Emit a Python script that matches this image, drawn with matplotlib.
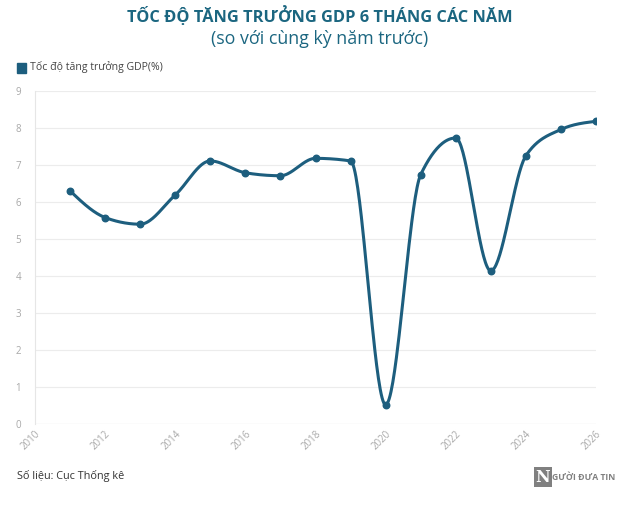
import numpy as np
import matplotlib
matplotlib.use('Agg')
import matplotlib.pyplot as plt

plt.rcParams['font.family'] = ['Open Sans', 'DejaVu Sans']

years = [2011, 2012, 2013, 2014, 2015, 2016, 2017, 2018,
         2019, 2020, 2021, 2022, 2023, 2024, 2025, 2026]
gdp_growth = [6.30, 5.58, 5.40, 6.19, 7.11, 6.79, 6.71, 7.18,
              7.11, 0.52, 6.74, 7.73, 4.14, 7.25, 7.96, 8.18]

line_color = '#1d5e7e'
title_color = '#1b6680'
grey = '#a8a8a8'


# monotone cubic in x (like d3.curveMonotoneX)
def monotone_curve(x, y, n=40):
    x = np.asarray(x, float)
    y = np.asarray(y, float)
    h = np.diff(x)
    s = np.diff(y) / h
    m = np.zeros_like(y)
    for i in range(1, len(y) - 1):
        if s[i - 1] * s[i] <= 0:
            m[i] = 0
        else:
            p = (s[i - 1] * h[i] + s[i] * h[i - 1]) / (h[i - 1] + h[i])
            m[i] = (np.sign(s[i - 1]) + np.sign(s[i])) * min(abs(s[i - 1]), abs(s[i]), 0.5 * abs(p))
    m[0] = (3 * s[0] - m[1]) / 2
    m[-1] = (3 * s[-1] - m[-2]) / 2
    xs, ys = [], []
    for i in range(len(x) - 1):
        t = np.linspace(0, 1, n)
        h00 = 2 * t**3 - 3 * t**2 + 1
        h10 = t**3 - 2 * t**2 + t
        h01 = -2 * t**3 + 3 * t**2
        h11 = t**3 - t**2
        xs.extend(x[i] + t * h[i])
        ys.extend(h00 * y[i] + h10 * h[i] * m[i] + h01 * y[i + 1] + h11 * h[i] * m[i + 1])
    return np.array(xs), np.array(ys)


fig = plt.figure(figsize=(6.4, 5.07), dpi=100)
ax = fig.add_axes([35 / 640, 1 - 424 / 507, 561 / 640, 333 / 507])

cx, cy = monotone_curve(years, gdp_growth)
ax.plot(cx, cy, color=line_color, lw=2.2, solid_capstyle='round', zorder=3)
ax.scatter(years, gdp_growth, s=22, color=line_color, zorder=4)

ax.set_xlim(2010, 2026)
ax.set_ylim(0, 9)
ax.set_yticks(range(0, 10))
ax.set_xticks(range(2010, 2027, 2))
ax.grid(axis='y', color='#ececec', lw=0.8)
ax.set_axisbelow(True)
for side in ['top', 'right', 'bottom']:
    ax.spines[side].set_visible(False)
ax.spines['left'].set_color('#e6e6e6')
ax.axhline(0, color='#e6e6e6', lw=0.8, zorder=1)
ax.tick_params(axis='both', length=0, labelsize=7, labelcolor=grey)
ax.tick_params(axis='y', pad=10)
for lab in ax.get_xticklabels():
    lab.set_rotation(45)
    lab.set_ha('right')
    lab.set_va('top')
    lab.set_rotation_mode('anchor')

fig.text(0.5, 1 - 16 / 507, 'TỐC ĐỘ TĂNG TRƯỞNG GDP 6 THÁNG CÁC NĂM',
         ha='center', va='center', fontsize=11.8, fontweight='bold', color=title_color)
fig.text(0.5, 1 - 39 / 507, '(so với cùng kỳ năm trước)',
         ha='center', va='center', fontsize=12.8, color=title_color)

fig.patches.append(plt.Rectangle((17 / 640, 1 - 73 / 507), 9 / 640, 10 / 507,
                                 transform=fig.transFigure, color=line_color))
fig.text(30 / 640, 1 - 67 / 507, 'Tốc độ tăng trưởng GDP(%)',
         ha='left', va='center', fontsize=7.6, color='#444444')

fig.text(17 / 640, 1 - 476 / 507, 'Số liệu: Cục Thống kê',
         ha='left', va='center', fontsize=7.8, color='#333333')
fig.text(543 / 640, 1 - 477 / 507, 'N', ha='center', va='center', fontsize=11.5,
         fontweight='bold', color='white', family='DejaVu Serif',
         bbox=dict(boxstyle='square,pad=0.1', fc='#808080', ec='none'))
fig.text(552 / 640, 1 - 477 / 507, 'GƯỜI ĐƯA TIN', ha='left', va='center',
         fontsize=6.2, color='#808080', fontweight='bold')

fig.savefig('out.png', dpi=100)
